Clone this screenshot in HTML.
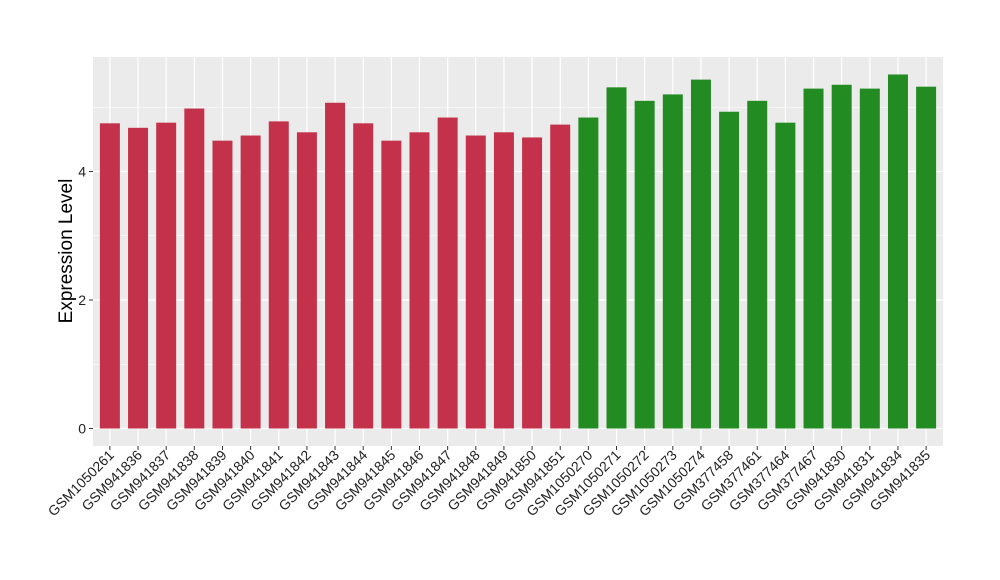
<!DOCTYPE html>
<html><head><meta charset="utf-8"><style>body{margin:0;background:#fff}svg{display:block;font-family:"Liberation Sans",sans-serif}</style></head>
<body>
<svg id="chart" width="1000" height="580">
<rect x="93" y="57" width="850" height="389" fill="#ebebeb"/>
<g id="grid"></g><g id="bars"></g><g id="axes"></g>
<text x="0" y="0" transform="translate(72,251) rotate(-90)" text-anchor="middle" font-size="19" fill="#000">Expression Level</text>
</svg>
<script>
const categories=["GSM1050261","GSM941836","GSM941837","GSM941838","GSM941839","GSM941840","GSM941841","GSM941842","GSM941843","GSM941844","GSM941845","GSM941846","GSM941847","GSM941848","GSM941849","GSM941850","GSM941851","GSM1050270","GSM1050271","GSM1050272","GSM1050273","GSM1050274","GSM377458","GSM377461","GSM377464","GSM377467","GSM941830","GSM941831","GSM941834","GSM941835"];
const values=[4.75,4.68,4.76,4.98,4.48,4.56,4.78,4.61,5.07,4.75,4.48,4.61,4.84,4.56,4.61,4.53,4.73,4.84,5.31,5.1,5.2,5.43,4.93,5.1,4.76,5.29,5.35,5.29,5.51,5.32];
const groups=["a","a","a","a","a","a","a","a","a","a","a","a","a","a","a","a","a","b","b","b","b","b","b","b","b","b","b","b","b","b"];
const yTicks=[0,2,4];
const colors={a:"#c3314a",b:"#228b22"};
const NS="http://www.w3.org/2000/svg";
const y=v=>428.5-v*64.25;
const step=850/(categories.length+0.2);
const x=i=>93+step*(0.6+i);
const bw=step*0.71;
function mk(t,a,p){const e=document.createElementNS(NS,t);for(const k in a)e.setAttribute(k,a[k]);document.getElementById(p).appendChild(e);return e;}
for(let v=1;v<6;v+=2){const g=mk('line',{x1:93,x2:943,y1:y(v),y2:y(v),stroke:'#fff','stroke-width':0.6},'grid');

}
yTicks.forEach(v=>{const g=mk('line',{x1:93,x2:943,y1:y(v),y2:y(v),stroke:'#fff','stroke-width':1.2},'grid');


const t=mk('line',{x1:89,x2:93,y1:y(v),y2:y(v),stroke:'#333'},'axes');


const l=mk('text',{x:86,y:y(v)+5,'text-anchor':'end','font-size':14,fill:'#222'},'axes');


l.textContent=v;});
categories.forEach((c,i)=>{const cx=x(i);
const g=mk('line',{x1:cx,x2:cx,y1:57,y2:446,stroke:'#fff','stroke-width':1.2},'grid');


const b=mk('rect',{x:cx-bw/2,y:y(values[i]),width:bw,height:y(0)-y(values[i]),fill:colors[groups[i]]},'bars');


const t=mk('line',{x1:cx,x2:cx,y1:446,y2:450,stroke:'#333'},'axes');


const l=mk('text',{x:0,y:0,transform:`translate(${cx+5},${456}) rotate(-45)`,'text-anchor':'end','font-size':14,fill:'#222'},'axes');


l.textContent=c;});
</script>
</body></html>
